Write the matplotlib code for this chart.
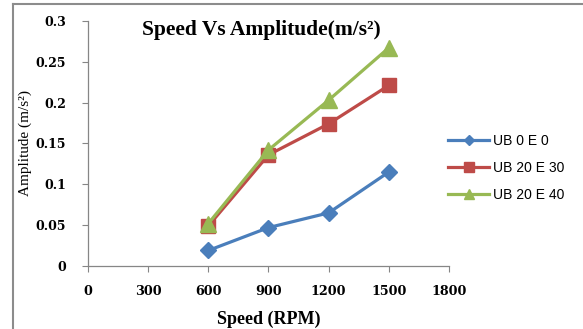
import matplotlib
matplotlib.use('Agg')
from matplotlib import pyplot as plt
from matplotlib.lines import Line2D

# data
speed = [600, 900, 1200, 1500]
ub0_e0 = [0.019, 0.047, 0.065, 0.115]
ub20_e30 = [0.049, 0.136, 0.174, 0.221]
ub20_e40 = [0.052, 0.142, 0.203, 0.267]
series_names = ['UB 0 E 0', 'UB 20 E 30', 'UB 20 E 40']
x_ticks = [0, 300, 600, 900, 1200, 1500, 1800]
y_ticks = [0, 0.05, 0.1, 0.15, 0.2, 0.25, 0.3]

serif = 'Liberation Serif'
tickfont = 'DejaVu Serif'
fig = plt.figure(figsize=(5.83, 3.29), dpi=100)
ax = fig.add_axes([0.151, 0.1915, 0.619, 0.745])

ax.plot(speed, ub0_e0, color='#4a7ebb', lw=2.3, marker='D', ms=8, label=series_names[0])
ax.plot(speed, ub20_e30, color='#be4b48', lw=2.3, marker='s', ms=10.5, label=series_names[1])
ax.plot(speed, ub20_e40, color='#98b954', lw=2.3, marker='^', ms=11, label=series_names[2])

ax.set_xlim(0, 1800)
ax.set_ylim(0, 0.3)
ax.set_xticks(x_ticks)
ax.set_yticks(y_ticks)
ax.set_xticklabels([str(t) for t in x_ticks], fontfamily=tickfont, fontweight='bold', fontsize=9.2)
ax.set_yticklabels(['0', '0.05', '0.1', '0.15', '0.2', '0.25', '0.3'],
                   fontfamily=tickfont, fontweight='bold', fontsize=9)
ax.tick_params(axis='x', length=4, color='#868686', pad=10)
ax.tick_params(axis='y', length=4, color='#868686', pad=12)
for s in ['top', 'right']:
    ax.spines[s].set_visible(False)
for s in ['left', 'bottom']:
    ax.spines[s].set_color('#868686')
    ax.spines[s].set_linewidth(0.9)

fig.text(261 / 583, 1 - 30 / 329, 'Speed Vs Amplitude(m/s\u00b2)', fontfamily=serif,
         fontweight='bold', fontsize=15.5, ha='center', va='center')
ax.set_xlabel('Speed (RPM)', fontfamily=serif, fontweight='bold', fontsize=13)
ax.set_ylabel('Amplitude (m/s\u00b2)', fontfamily=serif, fontsize=11)
ax.xaxis.set_label_coords(0.5, -0.183)
ax.yaxis.set_label_coords(-0.155, 0.5)

leg = ax.legend(loc='center left', bbox_to_anchor=(0.962, 0.40), frameon=False,
                prop={'family': 'Liberation Sans', 'size': 10},
                labelspacing=0.95, handlelength=3.0, handletextpad=0.25, markerscale=0.7)

# outer frame (left and top edges only visible)
fig.add_artist(Line2D([13 / 583, 13 / 583], [0, 1 - 4 / 329], color='#8c8c8c', lw=1.5))
fig.add_artist(Line2D([13 / 583, 1], [1 - 4 / 329, 1 - 4 / 329], color='#8c8c8c', lw=1.5))

fig.savefig('out.png', dpi=100)
